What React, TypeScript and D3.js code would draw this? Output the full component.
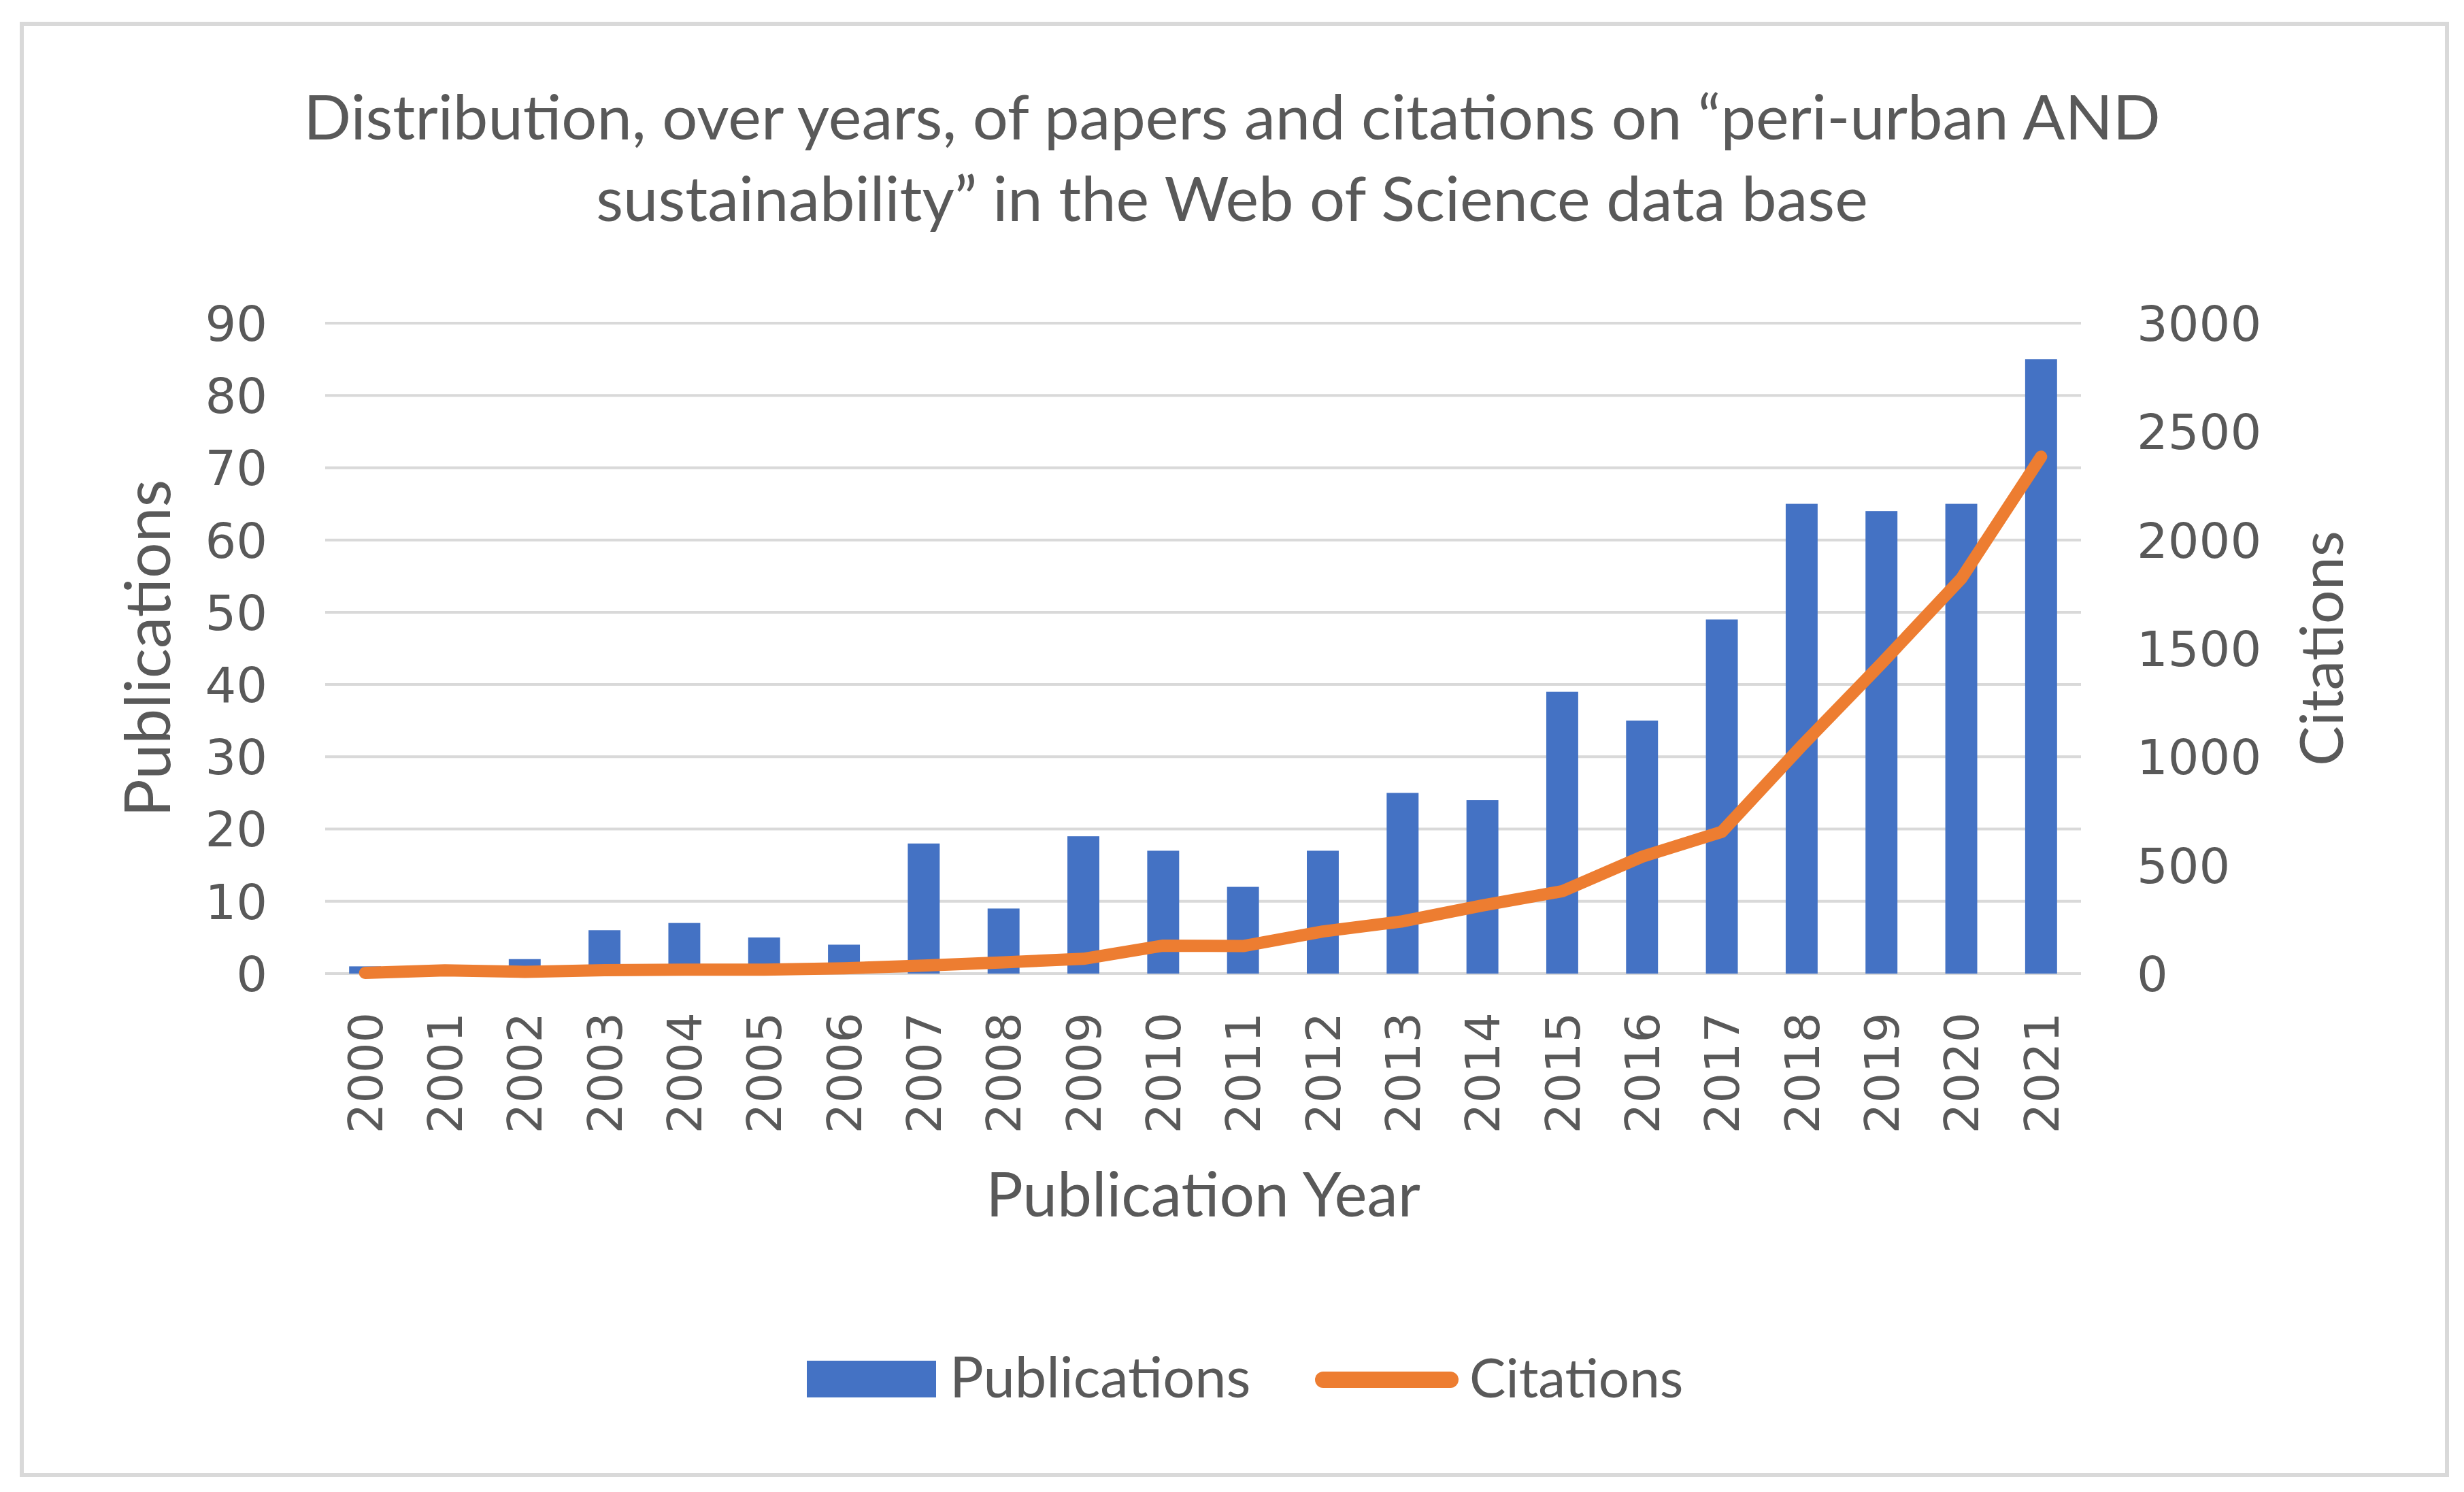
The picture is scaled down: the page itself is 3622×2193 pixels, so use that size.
import React from 'react';
import * as d3 from 'd3';

// values
const years = ['2000', '2001', '2002', '2003', '2004', '2005', '2006', '2007', '2008', '2009', '2010',
  '2011', '2012', '2013', '2014', '2015', '2016', '2017', '2018', '2019', '2020', '2021'];
const publications = [1, 0, 2, 6, 7, 5, 4, 18, 9, 19, 17, 12, 17, 25, 24, 39, 35, 49, 65, 64, 65, 85];
const citations = [3, 15, 8, 16, 18, 18, 24, 37, 52, 68, 129, 127, 194, 241, 314, 380, 539, 654, 1050, 1430, 1822, 2384];
const pubTicks = [0, 10, 20, 30, 40, 50, 60, 70, 80, 90];
const citTicks = [0, 500, 1000, 1500, 2000, 2500, 3000];
const titleLines = [
  'Distribution, over years, of papers and citations on \u201cperi-urban AND',
  'sustainability\u201d in the Web of Science data base',
];

const W = 3622;
const H = 2193;
const PLOT = { left: 478, right: 3059, top: 475, bottom: 1431 };

const BLUE = '#4472C4';
const ORANGE = '#ED7D31';
const GRID = '#D9D9D9';
const TEXT = '#595959';
const LABEL_FONT = 'Lato, "Open Sans", sans-serif';
const TICK_FONT = '"DejaVu Sans", Verdana, sans-serif';

const App = () => {
  const x = d3.scaleBand<string>()
    .domain(years)
    .range([PLOT.left, PLOT.right])
    .paddingInner(0.6)
    .paddingOuter(0.3);
  const yPub = d3.scaleLinear().domain([0, 90]).range([PLOT.bottom, PLOT.top]);
  const yCit = d3.scaleLinear().domain([0, 3000]).range([PLOT.bottom, PLOT.top]);

  const line = d3.line<number>()
    .x((_, i) => (x(years[i]) as number) + x.bandwidth() / 2)
    .y((d) => yCit(d));

  const midY = (PLOT.top + PLOT.bottom) / 2;

  return (
    <svg width={W} height={H} style={{ position: 'absolute', left: 0, top: 0, background: '#fff' }}>
      <rect x={0} y={0} width={W} height={H} fill="#fff" />
      {/* marco del gráfico */}
      <rect x={32} y={35} width={3565} height={2133} fill="none" stroke={GRID} strokeWidth={6} />

      {/* título */}
      {titleLines.map((t, i) => (
        <text key={i} x={1811} y={205 + i * 120} textAnchor="middle" fontFamily={LABEL_FONT}
          fontSize={92} fill={TEXT}>{t}</text>
      ))}

      {/* rejilla */}
      {pubTicks.map((t) => (
        <line key={t} x1={PLOT.left} x2={PLOT.right} y1={yPub(t)} y2={yPub(t)} stroke={GRID} strokeWidth={4} />
      ))}

      {/* eje izquierdo */}
      {pubTicks.map((t) => (
        <text key={t} x={393} y={yPub(t)} dy="0.36em" textAnchor="end" fontFamily={TICK_FONT}
          fontSize={72} fill={TEXT}>{t}</text>
      ))}
      {/* eje derecho */}
      {citTicks.map((t) => (
        <text key={t} x={3141} y={yCit(t)} dy="0.36em" textAnchor="start" fontFamily={TICK_FONT}
          fontSize={72} fill={TEXT}>{t}</text>
      ))}

      {/* barras */}
      {publications.map((v, i) => (
        <rect key={years[i]} x={x(years[i])} y={yPub(v)} width={x.bandwidth()}
          height={yPub(0) - yPub(v)} fill={BLUE} />
      ))}

      {/* línea de citas */}
      <path d={line(citations) || ''} fill="none" stroke={ORANGE} strokeWidth={18}
        strokeLinejoin="round" strokeLinecap="round" />

      {/* años */}
      {years.map((yr) => {
        const cx = (x(yr) as number) + x.bandwidth() / 2;
        return (
          <text key={yr} transform={`translate(${cx},1488) rotate(-90)`} dy="0.36em" textAnchor="end"
            fontFamily={TICK_FONT} fontSize={70} fill={TEXT}>{yr}</text>
        );
      })}

      {/* títulos de ejes */}
      <text x={(PLOT.left + PLOT.right) / 2} y={1788} textAnchor="middle" fontFamily={LABEL_FONT}
        fontSize={91} fill={TEXT}>Publication Year</text>
      <text transform={`translate(250,${midY}) rotate(-90)`} textAnchor="middle" fontFamily={LABEL_FONT}
        fontSize={93} fill={TEXT}>Publications</text>
      <text transform={`translate(3444,${midY}) rotate(-90)`} textAnchor="middle" fontFamily={LABEL_FONT}
        fontSize={88} fill={TEXT}>Citations</text>

      {/* leyenda */}
      <rect x={1186} y={2000} width={190} height={54} fill={BLUE} />
      <text x={1396} y={2054} fontFamily={LABEL_FONT} fontSize={83} fill={TEXT}>Publications</text>
      <line x1={1945} x2={2132} y1={2028} y2={2028} stroke={ORANGE} strokeWidth={24} strokeLinecap="round" />
      <text x={2160} y={2054} fontFamily={LABEL_FONT} fontSize={80} fill={TEXT}>Citations</text>
    </svg>
  );
};

export default App;
